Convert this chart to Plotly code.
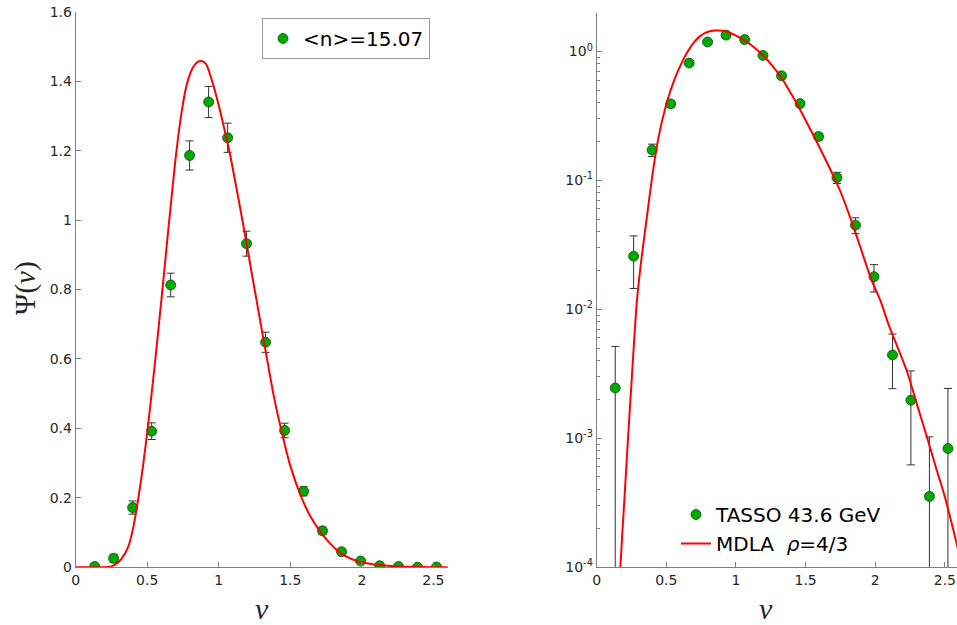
import plotly.graph_objects as go

# ---- data ----
nu = [0.133, 0.265, 0.398, 0.531, 0.664, 0.796, 0.929, 1.062, 1.194, 1.327,
      1.460, 1.593, 1.725, 1.858, 1.991, 2.124, 2.256, 2.389, 2.522]
psi = [0.00245, 0.0258, 0.172, 0.392, 0.813, 1.186, 1.340, 1.237, 0.932, 0.648,
       0.394, 0.219, 0.105, 0.0449, 0.0179, 0.00442, 0.00197, 0.000353, 0.00083]
psi_err = [0.0027, 0.0113, 0.019, 0.024, 0.034, 0.042, 0.045, 0.042, 0.036, 0.029,
           0.021, 0.013, 0.0105, 0.0063, 0.0043, 0.0020, 0.00135, 0.00067, 0.0016]

curve_nu = [0.0, 0.10, 0.14, 0.17, 0.20, 0.227, 0.25, 0.289, 0.32, 0.366, 0.40,
            0.438, 0.473, 0.503, 0.526, 0.554, 0.58, 0.612, 0.645, 0.68, 0.701,
            0.74, 0.776, 0.82, 0.85, 0.88, 0.91, 0.95, 1.0, 1.04, 1.078, 1.12,
            1.167, 1.21, 1.245, 1.30, 1.346, 1.386, 1.44, 1.498, 1.579, 1.64,
            1.707, 1.76, 1.833, 1.88, 1.974, 2.039, 2.1, 2.225, 2.3, 2.369, 2.44,
            2.5, 2.584, 2.6]
curve_psi = [0.0, 2e-7, 1.5e-5, 1.0e-4, 3.5e-4, 1.09e-3, 2.7e-3, 0.0117, 0.024,
             0.058, 0.11, 0.2, 0.3, 0.4, 0.483, 0.589, 0.693, 0.824, 0.963, 1.106,
             1.188, 1.31, 1.39, 1.44, 1.455, 1.458, 1.45, 1.405, 1.33, 1.26, 1.19,
             1.10, 0.995, 0.895, 0.813, 0.685, 0.58, 0.49, 0.39, 0.295, 0.20, 0.147,
             0.104, 0.077, 0.047, 0.0334, 0.0168, 0.0115, 0.0074, 0.00336, 0.00182,
             0.00104, 5.7e-4, 3.5e-4, 1.53e-4, 1.3e-4]

x_tickvals = [0, 0.5, 1, 1.5, 2, 2.5]
x_ticktext = ["0", "0.5", "1", "1.5", "2", "2.5"]
y_lin_tickvals = [0, 0.2, 0.4, 0.6, 0.8, 1.0, 1.2, 1.4, 1.6]
y_lin_ticktext = ["0", "0.2", "0.4", "0.6", "0.8", "1", "1.2", "1.4", "1.6"]
y_log_tickvals = [1e-4, 1e-3, 1e-2, 1e-1, 1]
y_log_ticktext = ["10<sup>-4</sup>", "10<sup>-3</sup>", "10<sup>-2</sup>",
                  "10<sup>-1</sup>", "10<sup>0</sup>"]
y_log_minor = [m * 10.0 ** e for e in range(-4, 1) for m in range(2, 10) if m * 10.0 ** e <= 2.0]

legend_left_name = "&lt;n&gt;=15.07"
data_name = "TASSO 43.6 GeV"
curve_name = "MDLA  <i>ρ</i>=4/3"

GREEN = "#00aa00"
RED = "#ff0000"
AXC = "#808080"
TXT = "#262626"

fig = go.Figure()

err_style = dict(type="data", array=psi_err, color="#333333", thickness=1, width=4)
mk = dict(size=10, color=GREEN, line=dict(color="#0b4f0b", width=0.8))

fig.add_trace(go.Scatter(x=nu, y=psi, mode="markers", marker=mk, error_y=err_style,
                         name=legend_left_name, legend="legend", xaxis="x", yaxis="y"))
fig.add_trace(go.Scatter(x=curve_nu, y=curve_psi, mode="lines",
                         line=dict(color=RED, width=2, shape="spline", smoothing=0.8),
                         showlegend=False, xaxis="x", yaxis="y"))
fig.add_trace(go.Scatter(x=nu, y=psi, mode="markers", marker=mk, error_y=err_style,
                         name=data_name, legend="legend2", xaxis="x2", yaxis="y2"))
fig.add_trace(go.Scatter(x=curve_nu, y=curve_psi, mode="lines",
                         line=dict(color=RED, width=2, shape="spline", smoothing=0.8),
                         name=curve_name, legend="legend2", xaxis="x2", yaxis="y2"))

W, H = 957, 625
OFF = 0  # body margin removed below, so the figure sits at the page origin

def px(x):
    return (x - OFF) / W

def py(y):
    return 1 - (y - OFF) / H

common = dict(showline=True, linecolor=AXC, linewidth=1, ticks="inside", ticklen=5,
              tickcolor=AXC, showgrid=False, zeroline=False, automargin=False,
              ticklabeloverflow="allow",
              tickfont=dict(family="DejaVu Sans", size=14, color=TXT))

fig.update_layout(
    width=W, height=H,
    margin=dict(l=0, r=0, t=0, b=0, pad=0, autoexpand=False),
    paper_bgcolor="white", plot_bgcolor="white",
    xaxis=dict(domain=[px(75.7), px(447.7)], range=[0, 2.6], tickmode="array",
               tickvals=x_tickvals, ticktext=x_ticktext, anchor="y", **common),
    yaxis=dict(domain=[py(567.3), py(11.7)], range=[0, 1.6], tickmode="array",
               tickvals=y_lin_tickvals, ticktext=y_lin_ticktext, anchor="x", **common),
    xaxis2=dict(domain=[px(596.7), 1.0], range=[0, 2.587], tickmode="array",
                tickvals=x_tickvals, ticktext=x_ticktext, anchor="y2", **common),
    yaxis2=dict(domain=[py(567.0), py(12.7)], type="log", range=[-4, 0.301],
                tickmode="array", tickvals=y_log_tickvals, ticktext=y_log_ticktext,
                anchor="x2",
                minor=dict(tickmode="array", tickvals=y_log_minor, ticks="inside",
                           ticklen=3, tickcolor=AXC, showgrid=False),
                **common),
    legend=dict(x=px(262), y=py(18), xanchor="left", yanchor="top",
                bordercolor="#999999", borderwidth=1, bgcolor="white",
                font=dict(family="DejaVu Sans", size=20, color="black")),
    legend2=dict(x=px(676), y=py(495), xanchor="left", yanchor="top",
                 borderwidth=0, bgcolor="rgba(255,255,255,0)",
                 font=dict(family="DejaVu Sans", size=20, color="black"),
                 tracegroupgap=0),
    annotations=[
        dict(text="<i>ν</i>", x=px(262), y=py(608), xref="paper", yref="paper",
             xanchor="center", yanchor="middle", showarrow=False,
             font=dict(family="Liberation Serif", size=30, color=TXT)),
        dict(text="<i>ν</i>", x=px(766), y=py(608), xref="paper", yref="paper",
             xanchor="center", yanchor="middle", showarrow=False,
             font=dict(family="Liberation Serif", size=30, color=TXT)),
        dict(text="Ψ(<i>ν</i>)", x=px(25), y=py(288), xref="paper", yref="paper",
             xanchor="center", yanchor="middle", textangle=-90, showarrow=False,
             font=dict(family="Liberation Serif", size=29, color=TXT)),
    ],
)

fig.write_html("out.html",
               config={"displayModeBar": False},
               post_script="document.body.style.margin='0px';"
                           "document.body.style.overflow='hidden';")
